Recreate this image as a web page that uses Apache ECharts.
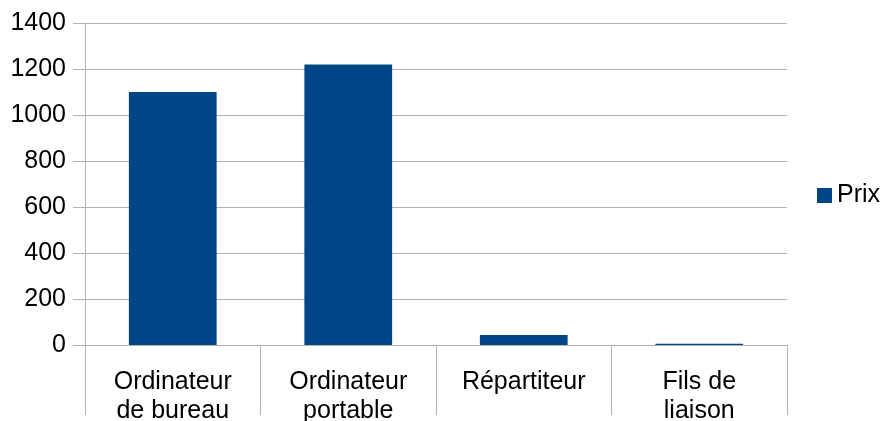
<!DOCTYPE html>
<html>
<head>
<meta charset="utf-8">
<script src="https://cdn.jsdelivr.net/npm/echarts@6/dist/echarts.min.js"></script>
<style>
  html, body { margin: 0; padding: 0; background: #fff; }
  #chart { width: 885px; height: 421px; }
</style>
</head>
<body>
<div id="chart"></div>
<script>
var categories = ['Ordinateur\nde bureau', 'Ordinateur\nportable', 'Répartiteur', 'Fils de\nliaison'];
var prix = [1100, 1220, 43, 5];
var seriesName = 'Prix';

var chart = echarts.init(document.getElementById('chart'));
var font = 'Liberation Sans, Arial, sans-serif';
var option = {
    animation: false,
    textStyle: { fontFamily: font },
    legend: {
        data: [seriesName],
        left: 812,
        top: 178,
        orient: 'vertical',
        itemWidth: 15,
        itemHeight: 15,
        itemGap: 6,
        icon: 'rect',
        textStyle: { fontFamily: font, fontSize: 25, color: '#000' }
    },
    grid: {
        left: 85,
        right: 98,
        top: 23,
        bottom: 76,
        containLabel: false,
        outerBoundsMode: 'none'
    },
    xAxis: {
        type: 'category',
        data: categories,
        boundaryGap: true,
        axisLine: { lineStyle: { color: '#b3b3b3', width: 1 } },
        axisTick: { show: true, length: 70, alignWithLabel: false, lineStyle: { color: '#b3b3b3' } },
        axisLabel: {
            interval: 0,
            margin: 23,
            fontSize: 25,
            lineHeight: 29,
            color: '#000',
            fontFamily: font
        }
    },
    yAxis: {
        type: 'value',
        min: 0,
        max: 1400,
        interval: 200,
        axisLine: { show: true, lineStyle: { color: '#b3b3b3' } },
        axisTick: { show: true, length: 12, lineStyle: { color: '#b3b3b3' } },
        splitLine: { lineStyle: { color: '#b3b3b3' } },
        axisLabel: {
            fontSize: 25,
            color: '#000',
            margin: 19,
            fontFamily: font,
            formatter: function (v) { return String(v); }
        }
    },
    series: [{
        name: seriesName,
        type: 'bar',
        data: prix,
        barWidth: '50%',
        itemStyle: { color: '#004586' }
    }]
};
chart.setOption(option);
</script>
</body>
</html>
